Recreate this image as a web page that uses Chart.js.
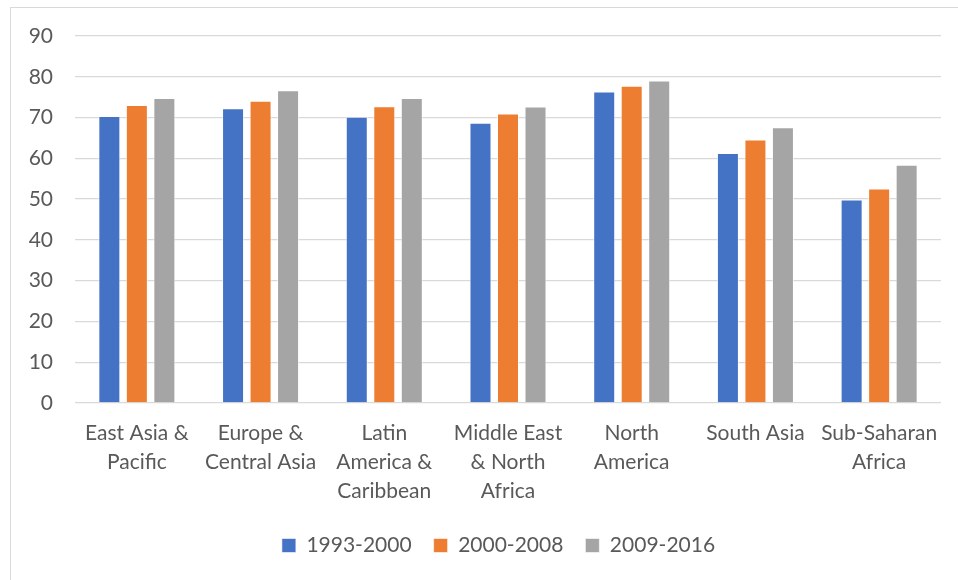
<!DOCTYPE html>
<html>
<head>
<meta charset="utf-8">
<script src="https://cdn.jsdelivr.net/npm/chart.js@4.4.1/dist/chart.umd.min.js"></script>
<style>
  body { margin: 0; background: #fff; }
  #wrap { position: relative; width: 958px; height: 580px; }
  #frame {
    position: absolute; left: 10px; top: 7px; width: 960px; height: 600px;
    border-left: 1px solid #d9d9d9; border-top: 1px solid #d9d9d9;
  }
  canvas { position: absolute; left: 0; top: 0; }
</style>
</head>
<body>
<div id="wrap">
  <div id="frame"></div>
  <canvas id="chart" width="958" height="580"></canvas>
</div>
<script>
const regions = [
  ["East Asia &", "Pacific"],
  ["Europe &", "Central Asia"],
  ["Latin", "America &", "Caribbean"],
  ["Middle East", "& North", "Africa"],
  ["North", "America"],
  ["South Asia"],
  ["Sub-Saharan", "Africa"],
];
const period1 = [70.4, 72.3, 70.2, 68.7, 76.4, 61.3, 49.9];
const period2 = [73.1, 74.1, 72.8, 71.0, 77.8, 64.6, 52.6];
const period3 = [74.8, 76.7, 74.8, 72.7, 79.1, 67.6, 58.4];
const seriesNames = ["1993-2000", "2000-2008", "2009-2016"];
const yTicks = [0, 10, 20, 30, 40, 50, 60, 70, 80, 90];

const fontFamily = "Lato, 'Open Sans', sans-serif";
const textColor = "#595959";

function barSet(label, data, color) {
  return {
    label: label,
    data: data,
    backgroundColor: color,
    borderColor: "rgba(255,255,255,0.6)",
    borderWidth: 1,
    categoryPercentage: 0.667,
    barPercentage: 0.8,
  };
}

// the legend in the original sits centred under the plot, not the page
const shiftLegend = {
  id: "shiftLegend",
  afterLayout(chart) {
    chart.legend.left += 28;
    chart.legend.right += 28;
  },
};

const ctx = document.getElementById("chart").getContext("2d");
new Chart(ctx, {
  type: "bar",
  data: {
    labels: regions,
    datasets: [
      barSet(seriesNames[0], period1, "#4472C4"),
      barSet(seriesNames[1], period2, "#ED7D31"),
      barSet(seriesNames[2], period3, "#A5A5A5"),
    ],
  },
  options: {
    responsive: false,
    animation: false,
    layout: { padding: { top: 36, right: 17, bottom: 14, left: 0 } },
    plugins: {
      tooltip: { enabled: false },
      legend: {
        position: "bottom",
        labels: {
          color: textColor,
          font: { family: fontFamily, size: 21 },
          boxWidth: 14,
          boxHeight: 14,
          padding: 22,
        },
      },
    },
    scales: {
      x: {
        grid: { display: false },
        border: { display: false },
        ticks: {
          color: textColor,
          font: { family: fontFamily, size: 21, lineHeight: 1.38 },
          maxRotation: 0,
          autoSkip: false,
          padding: 8,
        },
        afterFit: (scale) => { scale.height = 110; },
      },
      y: {
        min: 0,
        max: 90,
        afterBuildTicks: (scale) => {
          scale.ticks = yTicks.map((v) => ({ value: v }));
        },
        grid: { color: "#d9d9d9", lineWidth: 1.3, drawTicks: false },
        border: { display: false },
        ticks: {
          color: textColor,
          font: { family: fontFamily, size: 21 },
          padding: 22,
        },
        afterFit: (scale) => { scale.width = 75; },
      },
    },
  },
  plugins: [shiftLegend],
});
</script>
</body>
</html>
